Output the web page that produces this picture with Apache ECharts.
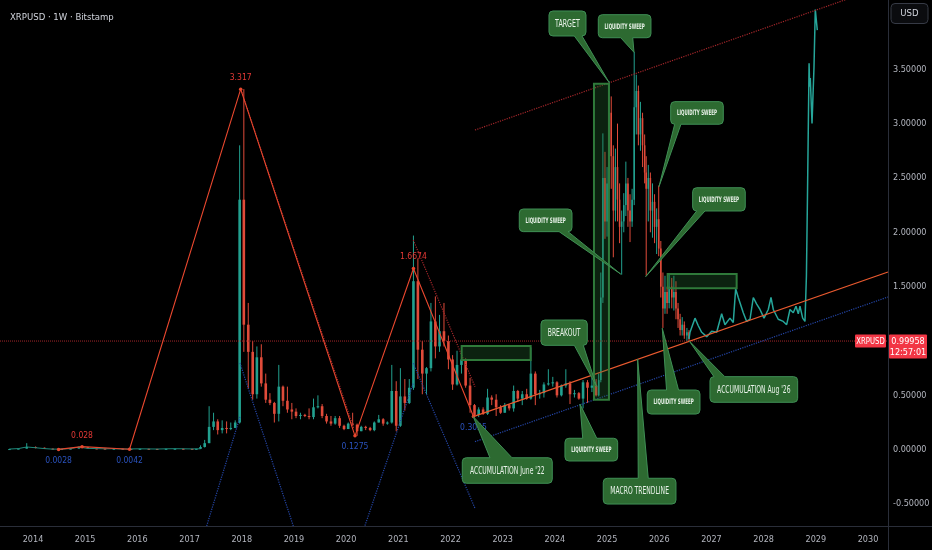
<!DOCTYPE html>
<html>
<head>
<meta charset="utf-8">
<script src="https://cdn.jsdelivr.net/npm/echarts@6.0.0/dist/echarts.min.js"></script>
<style>
html,body{margin:0;padding:0;background:#000;}
#chart{width:932px;height:550px;}
</style>
</head>
<body>
<div id="chart"></div>
<script>
// ---------- DATA ----------
const TITLE = 'XRPUSD · 1W · Bitstamp';
const LAST_PRICE = 0.99958;
const LAST_PRICE_TEXT = '0.99958';
const COUNTDOWN = '12:57:01';
const SYMBOL = 'XRPUSD';
const CURRENCY = 'USD';

const X_MIN = 2013.368, X_MAX = 2030.383;
const Y_MIN = -0.702, Y_MAX = 4.137;
const YEAR_TICKS = [2014,2015,2016,2017,2018,2019,2020,2021,2022,2023,2024,2025,2026,2027,2028,2029,2030];
const PRICE_TICKS = [-0.5,0,0.5,1.0,1.5,2.0,2.5,3.0,3.5];

// candles: [time(year), open, close, low, high]
const CANDLES_EARLY = [
 [2013.55,0.004,0.006,0.003,0.008],[2013.72,0.006,0.010,0.005,0.012],[2013.88,0.010,0.025,0.009,0.060],
 [2014.05,0.025,0.018,0.012,0.030],[2014.22,0.018,0.010,0.008,0.020],[2014.38,0.010,0.005,0.004,0.011],
 [2014.55,0.005,0.006,0.003,0.008],[2014.72,0.006,0.010,0.005,0.012],[2014.88,0.010,0.024,0.009,0.028],
 [2015.05,0.024,0.012,0.010,0.026],[2015.22,0.012,0.010,0.008,0.013],[2015.38,0.010,0.008,0.007,0.011],
 [2015.55,0.008,0.009,0.006,0.010],[2015.72,0.009,0.006,0.005,0.010],[2015.88,0.006,0.007,0.004,0.008],
 [2016.05,0.007,0.008,0.005,0.009],[2016.22,0.008,0.007,0.006,0.010],[2016.38,0.007,0.006,0.005,0.008],
 [2016.55,0.006,0.008,0.005,0.010],[2016.72,0.008,0.009,0.007,0.011],[2016.88,0.009,0.008,0.007,0.010],
 [2017.05,0.008,0.007,0.006,0.009],[2017.13,0.007,0.008,0.006,0.009]
];
const CANDLES_2017_2024 = [
 [2017.21,0.008,0.025,0.006,0.04],[2017.29,0.025,0.06,0.02,0.09],[2017.375,0.06,0.21,0.06,0.40],
 [2017.46,0.21,0.26,0.18,0.34],[2017.54,0.26,0.18,0.14,0.28],[2017.625,0.18,0.20,0.15,0.27],
 [2017.71,0.20,0.19,0.15,0.26],[2017.79,0.19,0.20,0.18,0.25],[2017.875,0.20,0.25,0.20,0.27],
 [2017.96,0.25,2.30,0.24,2.80],
 [2018.04,2.30,1.15,0.90,3.317],[2018.125,1.15,0.90,0.56,1.35],[2018.21,0.90,0.51,0.46,1.00],
 [2018.29,0.51,0.85,0.47,0.95],[2018.375,0.85,0.61,0.58,0.97],[2018.46,0.61,0.46,0.43,0.70],
 [2018.54,0.46,0.43,0.41,0.52],[2018.625,0.43,0.33,0.25,0.44],[2018.71,0.33,0.58,0.26,0.78],
 [2018.79,0.58,0.45,0.40,0.59],[2018.875,0.45,0.37,0.34,0.58],[2018.96,0.37,0.35,0.28,0.43],
 [2019.04,0.35,0.31,0.29,0.38],[2019.125,0.31,0.32,0.28,0.34],[2019.21,0.32,0.31,0.30,0.33],
 [2019.29,0.31,0.30,0.28,0.38],[2019.375,0.30,0.39,0.28,0.47],[2019.46,0.39,0.40,0.38,0.50],
 [2019.54,0.40,0.31,0.29,0.42],[2019.625,0.31,0.26,0.24,0.33],[2019.71,0.26,0.24,0.22,0.31],
 [2019.79,0.24,0.29,0.23,0.31],[2019.875,0.29,0.22,0.20,0.31],[2019.96,0.22,0.19,0.18,0.23],
 [2020.04,0.19,0.24,0.19,0.25],[2020.125,0.24,0.23,0.22,0.34],[2020.21,0.23,0.17,0.1275,0.24],
 [2020.29,0.17,0.21,0.17,0.22],[2020.375,0.21,0.20,0.18,0.22],[2020.46,0.20,0.18,0.17,0.21],
 [2020.54,0.18,0.25,0.17,0.26],[2020.625,0.25,0.28,0.25,0.32],[2020.71,0.28,0.24,0.22,0.29],
 [2020.79,0.24,0.25,0.23,0.26],[2020.875,0.25,0.54,0.24,0.78],[2020.96,0.54,0.22,0.17,0.63],
 [2021.04,0.22,0.49,0.21,0.75],[2021.125,0.49,0.43,0.36,0.65],[2021.21,0.43,0.57,0.42,0.65],
 [2021.29,0.57,1.55,0.55,1.97],[2021.375,1.55,0.92,0.65,1.76],[2021.46,0.92,0.70,0.51,1.00],
 [2021.54,0.70,0.75,0.51,0.76],[2021.625,0.75,1.18,0.72,1.35],[2021.71,1.18,0.95,0.84,1.41],
 [2021.79,0.95,1.09,0.90,1.24],[2021.875,1.09,1.00,0.95,1.35],[2021.96,1.00,0.83,0.74,1.05],
 [2022.04,0.83,0.60,0.55,0.87],[2022.125,0.60,0.78,0.59,0.91],[2022.21,0.78,0.83,0.70,0.91],
 [2022.29,0.83,0.59,0.57,0.84],[2022.375,0.59,0.41,0.34,0.66],[2022.46,0.41,0.32,0.3055,0.42],
 [2022.54,0.32,0.37,0.30,0.39],[2022.625,0.37,0.33,0.32,0.39],[2022.71,0.33,0.48,0.32,0.56],
 [2022.79,0.48,0.46,0.41,0.50],[2022.875,0.46,0.39,0.31,0.51],[2022.96,0.39,0.34,0.33,0.41],
 [2023.04,0.34,0.41,0.34,0.43],[2023.125,0.41,0.38,0.36,0.42],[2023.21,0.38,0.54,0.35,0.59],
 [2023.29,0.54,0.47,0.44,0.55],[2023.375,0.47,0.51,0.41,0.54],[2023.46,0.51,0.47,0.46,0.56],
 [2023.54,0.47,0.70,0.46,0.94],[2023.625,0.70,0.51,0.41,0.72],[2023.71,0.51,0.52,0.47,0.55],
 [2023.79,0.52,0.60,0.48,0.62],[2023.875,0.60,0.61,0.59,0.74],[2023.96,0.61,0.62,0.58,0.67],
 [2024.04,0.62,0.50,0.48,0.63],[2024.125,0.50,0.59,0.49,0.60],[2024.21,0.59,0.61,0.57,0.74],
 [2024.29,0.61,0.51,0.42,0.63],[2024.375,0.51,0.52,0.48,0.55],[2024.46,0.52,0.47,0.46,0.53],
 [2024.54,0.47,0.62,0.38,0.64],[2024.625,0.62,0.57,0.43,0.64],[2024.71,0.57,0.59,0.53,0.66],
 [2024.79,0.59,0.50,0.49,0.65]
];
const CANDLES_2025_2026 = [
 [2024.84,0.50,0.64,0.49,0.70],[2024.88,0.64,1.40,0.62,1.63],[2024.92,1.40,2.50,1.35,2.91],
 [2024.96,2.50,2.10,1.94,2.74],[2025.00,2.10,2.45,1.96,2.60],[2025.04,2.45,3.10,2.40,3.39],
 [2025.08,3.10,2.70,2.40,3.25],[2025.12,2.70,2.20,1.77,2.80],[2025.16,2.20,2.60,2.10,2.77],
 [2025.20,2.60,2.30,2.10,3.00],[2025.24,2.30,2.05,1.90,2.45],[2025.28,2.05,2.10,1.61,2.20],
 [2025.32,2.10,2.25,2.00,2.36],[2025.36,2.25,2.45,2.15,2.65],[2025.40,2.45,2.20,2.05,2.50],
 [2025.44,2.20,2.10,1.91,2.35],[2025.48,2.10,2.30,2.05,2.40],[2025.52,2.30,3.15,2.25,3.66],
 [2025.56,3.15,3.30,2.90,3.45],[2025.60,3.30,2.90,2.80,3.35],[2025.64,2.90,3.05,2.75,3.20],
 [2025.68,3.05,2.80,2.60,3.10],[2025.72,2.80,2.55,2.45,2.90],[2025.75,2.55,2.40,1.60,2.70],
 [2025.79,2.40,2.50,2.10,2.62],[2025.83,2.50,2.20,2.00,2.55],[2025.87,2.20,2.28,1.95,2.45],
 [2025.91,2.28,2.05,1.90,2.35],[2025.95,2.05,2.12,1.80,2.22],[2025.99,2.12,1.85,1.78,2.43],
 [2026.03,1.85,1.50,1.40,1.92],[2026.07,1.50,1.30,1.12,1.63],[2026.11,1.30,1.45,1.25,1.60],
 [2026.15,1.45,1.35,1.25,1.50],[2026.19,1.35,1.50,1.30,1.62],[2026.24,1.50,1.40,1.30,1.58],
 [2026.28,1.40,1.45,1.28,1.60],[2026.32,1.45,1.30,1.20,1.55],[2026.36,1.30,1.20,1.12,1.35],
 [2026.40,1.20,1.10,1.05,1.25],[2026.44,1.10,1.15,1.05,1.22],[2026.48,1.15,1.05,1.02,1.18],
 [2026.53,1.05,1.08,1.00,1.12],[2026.57,1.08,1.02,0.99,1.10]
];

// projected path (teal line)
const PROJECTION = [
 [2026.57,1.02],[2026.589,1.08],[2026.685,1.21],[2026.748,1.14],[2026.813,1.08],[2026.909,1.04],
 [2027.005,1.09],[2027.100,1.08],[2027.196,1.25],[2027.259,1.15],[2027.355,1.21],[2027.418,1.17],
 [2027.464,1.48],[2027.514,1.40],[2027.610,1.26],[2027.675,1.18],[2027.739,1.20],[2027.802,1.40],
 [2027.867,1.34],[2027.930,1.29],[2028.007,1.21],[2028.089,1.29],[2028.141,1.40],[2028.185,1.29],
 [2028.280,1.20],[2028.376,1.18],[2028.441,1.15],[2028.505,1.29],[2028.568,1.26],[2028.620,1.32],
 [2028.664,1.25],[2028.696,1.32],[2028.748,1.21],[2028.792,1.18],[2028.820,1.60],[2028.839,2.30],
 [2028.871,3.555],[2028.882,3.34],[2028.894,3.42],[2028.927,3.00],[2028.965,3.52],[2028.990,4.05],
 [2029.028,3.86]
];

// zigzag pivots
const PIVOT_T = [2014.49, 2014.94, 2015.85, 2017.98, 2020.17, 2021.29, 2022.44];
const PIVOT_V = [0.0028, 0.028, 0.0042, 3.317, 0.1275, 1.6674, 0.3055];
const PIVOT_LABEL = ['0.0028','0.028','0.0042','3.317','0.1275','1.6674','0.3055'];
const PIVOT_KIND = ['L','H','L','H','L','H','L'];

// drawn trend lines (data coordinates)
const MACRO_TRENDLINE = [[2022.437,0.3036],[2030.383,1.635]];
const LOWER_CHANNEL = [[2022.469,0.074],[2030.383,1.405]];
const UPPER_CHANNEL = [[2022.469,2.941],[2030.383,4.277]];
const RED_DOTTED = [
 [[2018.00,3.29],[2020.15,0.19]],
 [[2021.287,1.929],[2022.469,0.580]]
];
const BLUE_DOTTED = [
 [[2017.328,-0.702],[2017.966,0.301]],
 [[2017.966,0.798],[2018.988,-0.702]],
 [[2020.361,-0.699],[2021.287,0.611]],
 [[2021.287,0.795],[2022.469,-0.539]]
];

// zones: [t1, vTop, t2, vBottom]
const ZONES = [
 [2022.214,0.954,2023.536,0.825],
 [2024.749,3.367,2025.036,0.46],
 [2026.161,1.616,2027.483,1.485]
];

// callouts
const CALLOUTS = [
 {text:'TARGET', tip:[2025.037,3.380], box:[2023.887,4.036,2024.596,3.806], base:0.82, hw:5, fs:11},
 {text:'LIQUIDITY SWEEP', tip:[2025.516,3.656], box:[2024.832,4.002,2025.841,3.790], base:0.54, hw:6, fs:7.5},
 {text:'LIQUIDITY SWEEP', tip:[2025.995,2.420], box:[2026.219,3.202,2027.227,2.994], base:0.10, hw:5, fs:7.5},
 {text:'LIQUIDITY SWEEP', tip:[2025.740,1.592], box:[2026.640,2.410,2027.648,2.196], base:0.12, hw:6, fs:7.5},
 {text:'LIQUIDITY SWEEP', tip:[2025.261,1.616], box:[2023.318,2.214,2024.328,2.006], base:0.85, hw:5, fs:7.5},
 {text:'BREAKOUT', tip:[2024.801,0.580], box:[2023.734,1.193,2024.621,0.960], base:0.85, hw:6, fs:10.5},
 {text:"ACCUMULATION June '22", tip:[2022.437,0.304], box:[2022.226,-0.074,2023.950,-0.309], base:0.43, hw:11, fs:10.5},
 {text:'LIQUIDITY SWEEP', tip:[2024.481,0.420], box:[2024.193,0.105,2025.203,-0.104], base:0.47, hw:7, fs:7.5},
 {text:'MACRO TRENDLINE', tip:[2025.586,0.834], box:[2024.927,-0.263,2026.320,-0.500], base:0.55, hw:5, fs:10.5},
 {text:'LIQUIDITY SWEEP', tip:[2026.058,1.117], box:[2025.770,0.549,2026.780,0.328], base:0.48, hw:6, fs:7.5},
 {text:"ACCUMULATION Aug '26", tip:[2026.575,1.000], box:[2026.972,0.672,2028.652,0.436], base:0.10, hw:6, fs:10.5}
];

// ---------- STYLE ----------
const FONT = "'DejaVu Sans Condensed','DejaVu Sans',sans-serif";
const UP = '#22a08f', DOWN = '#e04b3a';
const AXIS_TEXT = '#b2b5be', BORDER = '#2a2e39';

const CANDLES = CANDLES_2017_2024.concat(CANDLES_2025_2026);

function candleRender(params, api){
  const t = api.value(0), o = api.value(1), c = api.value(2), l = api.value(3), h = api.value(4);
  const pO = api.coord([t,o]), pC = api.coord([t,c]), pL = api.coord([t,l]), pH = api.coord([t,h]);
  const w = Math.max(1.4, api.size([t >= 2024.82 ? 0.03 : 0.05, 0])[0]);
  const color = c >= o ? UP : DOWN;
  const top = Math.min(pO[1],pC[1]);
  const hgt = Math.max(1, Math.abs(pO[1]-pC[1]));
  return {type:'group', children:[
    {type:'line', shape:{x1:pH[0],y1:pH[1],x2:pL[0],y2:Math.max(pL[1],pH[1]+1)}, style:{stroke:color,lineWidth:1}},
    {type:'rect', shape:{x:pO[0]-w/2,y:top,width:w,height:hgt}, style:{fill:color}}
  ]};
}

function zoneRender(params, api){
  const z = ZONES[params.dataIndex];
  const a = api.coord([z[0],z[1]]), b = api.coord([z[2],z[3]]);
  return {type:'rect', shape:{x:a[0],y:a[1],width:b[0]-a[0],height:b[1]-a[1]},
    style:{fill:'rgba(40,112,52,0.30)', stroke:'#2f7a3a', lineWidth:2}};
}

function calloutRender(params, api){
  const c = CALLOUTS[params.dataIndex];
  const a = api.coord([c.box[0],c.box[1]]), b = api.coord([c.box[2],c.box[3]]);
  const tip = api.coord(c.tip);
  const l=a[0], t=a[1], R=b[0], B=b[1], r=4;
  let bx = l + c.base*(R-l);
  let b1 = Math.max(l+r, bx-c.hw), b2 = Math.min(R-r, bx+c.hw);
  let d;
  if (tip[1] < t) {
    d = `M${l+r} ${t} L${b1} ${t} L${tip[0]} ${tip[1]} L${b2} ${t} L${R-r} ${t} Q${R} ${t} ${R} ${t+r} L${R} ${B-r} Q${R} ${B} ${R-r} ${B} L${l+r} ${B} Q${l} ${B} ${l} ${B-r} L${l} ${t+r} Q${l} ${t} ${l+r} ${t} Z`;
  } else {
    d = `M${l+r} ${t} L${R-r} ${t} Q${R} ${t} ${R} ${t+r} L${R} ${B-r} Q${R} ${B} ${R-r} ${B} L${b2} ${B} L${tip[0]} ${tip[1]} L${b1} ${B} L${l+r} ${B} Q${l} ${B} ${l} ${B-r} L${l} ${t+r} Q${l} ${t} ${l+r} ${t} Z`;
  }
  const small = c.fs < 9;
  return {type:'group', children:[
    {type:'path', shape:{pathData:d}, style:{fill:'#2d6a31', stroke:'#3f8f55', lineWidth:1}},
    {type:'text', x:(l+R)/2, y:(t+B)/2+0.5, scaleX: small ? 0.6 : 0.64,
      style:{text:c.text, fill:'#e9f2e9', fontSize:c.fs, fontFamily:FONT,
        fontWeight: small ? 'bold' : 'normal', align:'center', verticalAlign:'middle'}}
  ]};
}

function lineSeries(pts, color, type, width, z){
  return {type:'line', data:pts, showSymbol:false, symbol:'none', silent:true, z:z||4,
    lineStyle:{color:color, type:type, width:width||1}, clip:true};
}

const series = [
  {type:'custom', name:'candles', data:CANDLES, encode:{x:0,y:[1,2,3,4]}, renderItem:candleRender, z:2, clip:true, silent:true},
  // flat early history drawn as thin candles plus a close line
  {type:'custom', name:'early', data:CANDLES_EARLY, encode:{x:0,y:[1,2,3,4]}, renderItem:candleRender, z:2, clip:true, silent:true},
  lineSeries(CANDLES_EARLY.map(c=>[c[0],c[2]]).concat([[CANDLES_2017_2024[0][0],CANDLES_2017_2024[0][1]]]), '#1f8a7c', 'solid', 1, 2),
  lineSeries(PROJECTION, '#26a69a', 'solid', 1.5, 3),
  lineSeries([[X_MIN,LAST_PRICE],[X_MAX,LAST_PRICE]], '#a3262a', 'dotted', 1, 3),
  lineSeries(MACRO_TRENDLINE, '#ea5a2f', 'solid', 1.2, 4),
  lineSeries(LOWER_CHANNEL, '#2446a8', 'dotted', 1.2, 4),
  lineSeries(UPPER_CHANNEL, '#a3262a', 'dotted', 1.2, 4)
];
RED_DOTTED.forEach(p => series.push(lineSeries(p, '#a3262a', 'dotted', 1.2, 4)));
BLUE_DOTTED.forEach(p => series.push(lineSeries(p, '#2446a8', 'dotted', 1.2, 4)));
series.push({
  type:'line', z:5, silent:true, symbol:'circle', symbolSize:3.5,
  lineStyle:{color:'#e8472e', width:1.1}, itemStyle:{color:'#e8472e'},
  data: PIVOT_T.map((t,i)=>({value:[t,PIVOT_V[i]],
     label:{show:true, formatter:PIVOT_LABEL[i], position: PIVOT_KIND[i]==='H'?'top':'bottom', distance:5,
       color: PIVOT_KIND[i]==='H' ? '#e53935' : '#2a52be', fontSize:8.5, fontFamily:FONT}}))
});
series.push({type:'custom', data:ZONES.map(z=>[z[0],z[1]]), renderItem:zoneRender, z:6, silent:true, clip:true});
series.push({type:'custom', data:CALLOUTS.map(c=>[c.tip[0],c.tip[1]]), renderItem:calloutRender, z:10, silent:true, clip:false});

const chart = echarts.init(document.getElementById('chart'));
chart.setOption({
  backgroundColor:'#000000',
  animation:false,
  title:{text:TITLE, left:5, top:8, textStyle:{color:'#d1d4dc', fontSize:9.5, fontWeight:'normal', fontFamily:FONT}},
  grid:{left:0, right:44, top:0, bottom:24, outerBoundsMode:'none', containLabel:false},
  xAxis:{type:'value', min:X_MIN, max:X_MAX, splitLine:{show:false}, axisTick:{show:false},
    axisLine:{show:false},
    axisLabel:{customValues:YEAR_TICKS, formatter:v=>String(Math.round(v)), color:AXIS_TEXT, fontSize:9, margin:9, fontFamily:FONT}},
  yAxis:{type:'value', position:'right', min:Y_MIN, max:Y_MAX, splitLine:{show:false}, axisTick:{show:false},
    axisLine:{show:false},
    axisLabel:{customValues:PRICE_TICKS, formatter:v=>v.toFixed(5), color:AXIS_TEXT, fontSize:9, margin:5, fontFamily:FONT}},
  series:series
});

const yP = chart.convertToPixel({yAxisIndex:0}, LAST_PRICE);
const xR = chart.convertToPixel({xAxisIndex:0}, X_MAX);
const yB = chart.convertToPixel({yAxisIndex:0}, Y_MIN);
chart.setOption({graphic:[
  {type:'line', shape:{x1:xR+0.5,y1:0,x2:xR+0.5,y2:550}, style:{stroke:BORDER,lineWidth:1}, z:1},
  {type:'line', shape:{x1:0,y1:yB+0.5,x2:932,y2:yB+0.5}, style:{stroke:BORDER,lineWidth:1}, z:1},
  {type:'rect', shape:{x:xR+3,y:3.5,width:37,height:20,r:4}, style:{fill:'#0b0c0f', stroke:'#363a45', lineWidth:1}, z:20},
  {type:'text', x:xR+21.5, y:13.5, style:{text:CURRENCY, fill:'#d1d4dc', fontSize:9.5, fontFamily:FONT, align:'center', verticalAlign:'middle'}, z:21},
  {type:'rect', shape:{x:xR-33,y:yP-6.5,width:31,height:13,r:1}, style:{fill:'#f23645'}, z:20},
  {type:'text', x:xR-17.5, y:yP+0.5, scaleX:0.85, style:{text:SYMBOL, fill:'#ffffff', fontSize:9, fontFamily:FONT, align:'center', verticalAlign:'middle'}, z:21},
  {type:'rect', shape:{x:xR+1,y:yP-6.5,width:38,height:24,r:1}, style:{fill:'#f23645'}, z:20},
  {type:'text', x:xR+20, y:yP+0.5, style:{text:LAST_PRICE_TEXT, fill:'#ffffff', fontSize:9, fontFamily:FONT, align:'center', verticalAlign:'middle'}, z:21},
  {type:'text', x:xR+20, y:yP+11.5, style:{text:COUNTDOWN, fill:'#ffffff', fontSize:9, fontFamily:FONT, align:'center', verticalAlign:'middle'}, z:21}
]});
</script>
</body>
</html>
